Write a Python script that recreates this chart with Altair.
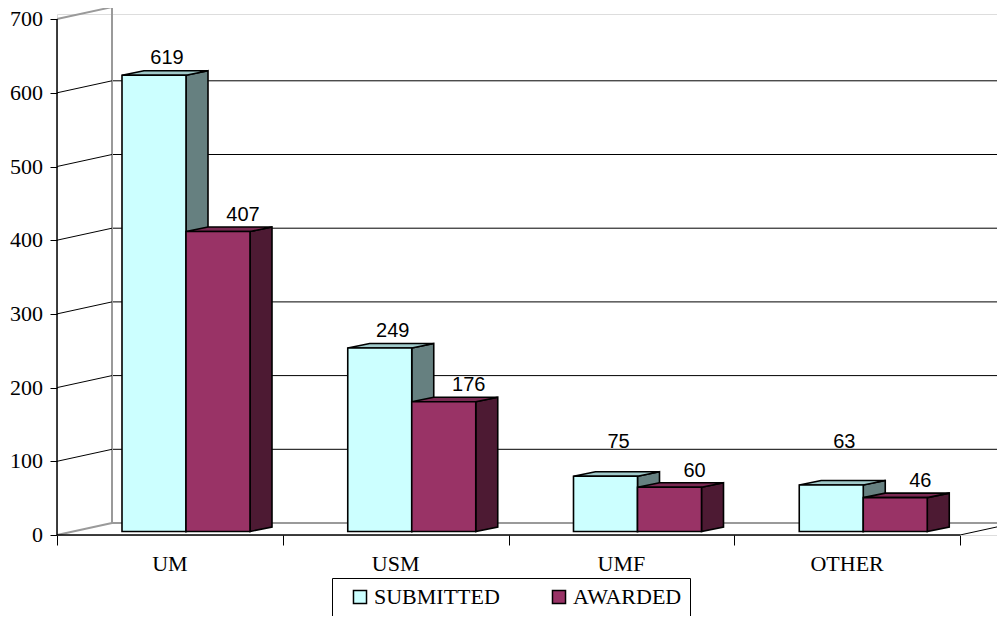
import altair as alt
import pandas as pd

# ---------------- data ----------------
categories = ["UM", "USM", "UMF", "OTHER"]
submitted = [619, 249, 75, 63]
awarded = [407, 176, 60, 46]
series = ["SUBMITTED", "AWARDED"]
y_ticks = [0, 100, 200, 300, 400, 500, 600, 700]

# ---------------- geometry / style ----------------
PAD_TOP = 6
W, H = 940, 527 - PAD_TOP
PX_CAT = 225.75          # px per category slot
PX_UNIT = 0.737          # px per value unit
XMAX = W / PX_CAT
YMAX = H / PX_UNIT
WALL_DX = 55 / PX_CAT
WALL_DY = 12 / PX_UNIT
BAR_OFF = 65 / PX_CAT
BAR_W = 64 / PX_CAT
BAR_BASE = 3.5 / PX_UNIT
BAR_DX = 22 / PX_CAT
BAR_DY = 4.5 / PX_UNIT

front_col = {"SUBMITTED": "#CCFFFF", "AWARDED": "#993366"}
side_col = {"SUBMITTED": "#668080", "AWARDED": "#4D1A33"}
top_col = {"SUBMITTED": "#A0CACA", "AWARDED": "#7A2952"}
GRAY = "#9A9A9A"
SERIF = "Liberation Serif"

n = len(categories)
xs = alt.Scale(domain=[0, XMAX], nice=False, zero=False)
ys = alt.Scale(domain=[0, YMAX], nice=False, zero=False)
xax = alt.Axis(values=list(range(n + 1)), tickSize=10, labels=False, domain=False, grid=False,
               title=None, tickColor="black", tickWidth=1)
yax = alt.Axis(values=y_ticks, tickSize=7, labels=False, domain=False, grid=False,
               tickColor="black", tickWidth=1, title=None)


def X(f):
    return alt.X(f, scale=xs, axis=xax, title=None)


def Y(f):
    return alt.Y(f, scale=ys, axis=yax, title=None)


values = {"SUBMITTED": submitted, "AWARDED": awarded}

fronts, sides, tops, labels = [], [], [], []
for s_i, s in enumerate(series):
    for i, c in enumerate(categories):
        v = values[s][i]
        x0 = i + BAR_OFF + s_i * BAR_W
        x1 = x0 + BAR_W
        y0 = BAR_BASE
        y1 = v + BAR_BASE
        bid = f"{s}-{c}"
        fronts.append(dict(series=s, cat=c, value=v, x0=x0, x1=x1, y0=y0, y1=y1))
        sides.append(dict(series=s, bar=bid, px=x1, py=y1, py2=y0))
        sides.append(dict(series=s, bar=bid, px=x1 + BAR_DX, py=y1 + BAR_DY, py2=y0 + BAR_DY))
        tops.append(dict(series=s, bar=bid, py=y1, xa=x0, xb=x1))
        tops.append(dict(series=s, bar=bid, py=y1 + BAR_DY, xa=x0 + BAR_DX, xb=x1 + BAR_DX))
        if s_i == 0:
            lx = (x0 + x1 + BAR_DX) / 2 + 2 / PX_CAT
            ly = max(v + 20, 118)
        else:
            lx = (x0 + x1) / 2 + 25 / PX_CAT
            ly = v + 19
        labels.append(dict(series=s, value=v, lx=lx, ly=ly))

df_front = pd.DataFrame(fronts)
df_side = pd.DataFrame(sides)
df_top = pd.DataFrame(tops)
df_lab = pd.DataFrame(labels)

# walls
back_grid = pd.DataFrame([dict(x=WALL_DX, x2=XMAX, y=v + WALL_DY) for v in y_ticks[1:-1]])
back_edges = pd.DataFrame([dict(x=WALL_DX, x2=XMAX, y=v + WALL_DY) for v in (y_ticks[0], y_ticks[-1])])
back_left = pd.DataFrame([dict(x=WALL_DX, y=y_ticks[0] + WALL_DY, y2=y_ticks[-1] + WALL_DY)])
diag_black = pd.DataFrame([dict(x=0, x2=WALL_DX, y=v, y2=v + WALL_DY) for v in y_ticks[1:-1]])
diag_gray = pd.DataFrame([dict(x=0, x2=WALL_DX, y=v, y2=v + WALL_DY) for v in (y_ticks[0], y_ticks[-1])])
y_edge = pd.DataFrame([dict(x=0, y=y_ticks[0], y2=y_ticks[-1])])
floor_front = pd.DataFrame([dict(x=0, x2=n, y=0)])
floor_right = pd.DataFrame([dict(x=n, x2=n + WALL_DX, y=0, y2=WALL_DY)])
cat_df = pd.DataFrame([dict(cat=c, xc=i + 0.5, y=0) for i, c in enumerate(categories)])
ytick_df = pd.DataFrame([dict(x=0, y=v, lab=str(v)) for v in y_ticks])

layers = []

layers.append(alt.Chart(back_grid).mark_rule(color="black", strokeWidth=1).encode(
    x=X("x:Q"), x2="x2:Q", y=Y("y:Q")))
layers.append(alt.Chart(back_edges).mark_rule(color=GRAY, strokeWidth=2).encode(
    x=X("x:Q"), x2="x2:Q", y=Y("y:Q")))
layers.append(alt.Chart(back_left).mark_rule(color=GRAY, strokeWidth=2).encode(
    x=X("x:Q"), y=Y("y:Q"), y2="y2:Q"))
layers.append(alt.Chart(diag_black).mark_rule(color="black", strokeWidth=1).encode(
    x=X("x:Q"), x2="x2:Q", y=Y("y:Q"), y2="y2:Q"))
layers.append(alt.Chart(diag_gray).mark_rule(color=GRAY, strokeWidth=2).encode(
    x=X("x:Q"), x2="x2:Q", y=Y("y:Q"), y2="y2:Q"))
layers.append(alt.Chart(y_edge).mark_rule(color="black", strokeWidth=1.5).encode(
    x=X("x:Q"), y=Y("y:Q"), y2="y2:Q"))
layers.append(alt.Chart(floor_front).mark_rule(color="black", strokeWidth=1.5).encode(
    x=X("x:Q"), x2="x2:Q", y=Y("y:Q")))
layers.append(alt.Chart(floor_right).mark_rule(color="black", strokeWidth=1, clip=True).encode(
    x=X("x:Q"), x2="x2:Q", y=Y("y:Q"), y2="y2:Q"))

legend = alt.Legend(orient="none", legendX=275, legendY=570 - PAD_TOP, direction="horizontal",
                    title="\u00a0", titleOrient="left", titleFontSize=8, titlePadding=9,
                    symbolType="square", symbolSize=170, symbolStrokeColor="black", symbolStrokeWidth=1.5,
                    labelFont=SERIF, labelFontSize=22, labelColor="black",
                    strokeColor="black", padding=8, columnPadding=48, labelOffset=3)
color = alt.Color("series:N", scale=alt.Scale(domain=series, range=[front_col[s] for s in series]),
                  legend=legend)

for s in series:
    layers.append(alt.Chart(df_side).transform_filter(alt.datum.series == s).mark_area(
        color=side_col[s], stroke="black", strokeWidth=1.6, opacity=1).encode(
        x=X("px:Q"), y=Y("py:Q"), y2="py2:Q", detail="bar:N"))
    layers.append(alt.Chart(df_top).transform_filter(alt.datum.series == s).mark_area(
        orient="horizontal", color=top_col[s], stroke="black", strokeWidth=1.6, opacity=1).encode(
        y=Y("py:Q"), x=X("xa:Q"), x2="xb:Q", detail="bar:N"))
    layers.append(alt.Chart(df_front).transform_filter(alt.datum.series == s).mark_rect(
        stroke="black", strokeWidth=1.6, opacity=1).encode(
        x=X("x0:Q"), x2="x1:Q", y=Y("y1:Q"), y2="y0:Q", color=color))

layers.append(alt.Chart(df_lab).mark_text(font="Liberation Sans", fontSize=20, color="black",
                                          baseline="alphabetic", align="center").encode(
    x=X("lx:Q"), y=Y("ly:Q"), text="value:Q"))

layers.append(alt.Chart(cat_df).mark_text(font=SERIF, fontSize=22, color="black",
                                          baseline="alphabetic", align="center", dy=36).encode(
    x=X("xc:Q"), y=Y("y:Q"), text="cat:N"))

layers.append(alt.Chart(ytick_df).mark_text(font=SERIF, fontSize=22, color="black",
                                            baseline="middle", align="right", dx=-14).encode(
    x=X("x:Q"), y=Y("y:Q"), text="lab:N"))

chart = alt.layer(*layers).properties(
    width=W, height=H,
    autosize=alt.AutoSizeParams(type="none"),
    padding={"left": 49, "top": PAD_TOP, "right": 0, "bottom": 81},
).configure_view(stroke=None).configure(background="white")

chart.save("out.html", embed_options={"renderer": "svg", "actions": False})
